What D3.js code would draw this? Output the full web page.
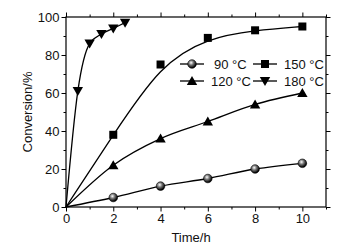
<!DOCTYPE html>
<html>
<head>
<meta charset="utf-8">
<script src="https://cdn.jsdelivr.net/npm/d3@7"></script>
<style>
	body { margin: 0; background: #fff; }
	text { font-family: "Liberation Sans", Arial, sans-serif; fill: #111; }
</style>
</head>
<body>
<svg id="chart" width="342" height="251"></svg>
<script>
// data
const time90 = [0, 2, 4, 6, 8, 10];
const conv90 = [0, 5, 11, 15, 20, 23];
const time120 = [0, 2, 4, 6, 8, 10];
const conv120 = [0, 22, 36, 45, 54, 60];
const time150 = [0, 2, 4, 6, 8, 10];
const conv150 = [0, 38, 75, 89, 93, 95];
const time180 = [0, 0.5, 1, 1.5, 2, 2.5];
const conv180 = [0, 61, 86, 91, 94, 97];
const xTicks = [0, 2, 4, 6, 8, 10];
const yTicks = [0, 20, 40, 60, 80, 100];
const labels = ["90 °C", "120 °C", "150 °C", "180 °C"];

const series = [
	{ name: labels[0], x: time90, y: conv90, sym: "sphere", curve: d3.curveMonotoneX },
	{ name: labels[1], x: time120, y: conv120, sym: "up", curve: d3.curveMonotoneX },
	{ name: labels[2], x: time150, y: conv150, sym: "square", curve: d3.curveBasis },
	{ name: labels[3], x: time180, y: conv180, sym: "down", curve: d3.curveMonotoneX }
];

const svg = d3.select("#chart");
const m = { left: 66, right: 326, top: 17, bottom: 207 };

const x = d3.scaleLinear().domain([0, 11]).range([m.left, m.right]);
const y = d3.scaleLinear().domain([0, 100]).range([m.bottom, m.top]);

// sphere gradient for the 90 °C markers
const grad = svg.append("defs").append("radialGradient")
	.attr("id", "ball").attr("cx", "40%").attr("cy", "35%").attr("r", "60%");
grad.append("stop").attr("offset", "0%").attr("stop-color", "#fff");
grad.append("stop").attr("offset", "45%").attr("stop-color", "#777");
grad.append("stop").attr("offset", "100%").attr("stop-color", "#000");

// axes: major + minor ticks outward, mirrored on top and right
function axisSet(axisFn, scale, ticks, minor, tr, showLabels) {
	const g1 = svg.append("g").attr("transform", tr)
		.call(axisFn(scale).tickValues(minor).tickSize(2.5).tickFormat(""));
	const g2 = svg.append("g").attr("transform", tr)
		.call(axisFn(scale).tickValues(ticks).tickSize(4.5).tickPadding(2)
			.tickFormat(showLabels ? d3.format("d") : ""));
	[g1, g2].forEach(function(g) {
		g.select(".domain").remove();
		g.selectAll("line").attr("stroke", "#000").attr("stroke-width", 1);
		g.selectAll("text").style("font-size", "13px").attr("fill", "#111");
	});
}
const xMinor = [1, 3, 5, 7, 9, 11];
const yMinor = [10, 30, 50, 70, 90];
axisSet(d3.axisBottom, x, xTicks, xMinor, "translate(0," + m.bottom + ")", true);
axisSet(d3.axisTop, x, xTicks, xMinor, "translate(0," + m.top + ")", false);
axisSet(d3.axisLeft, y, yTicks, yMinor, "translate(" + m.left + ",0)", true);
axisSet(d3.axisRight, y, yTicks, yMinor, "translate(" + m.right + ",0)", false);

svg.append("rect")
	.attr("x", m.left).attr("y", m.top)
	.attr("width", m.right - m.left).attr("height", m.bottom - m.top)
	.attr("fill", "none").attr("stroke", "#000").attr("stroke-width", 1.2);

svg.append("text").attr("x", 191).attr("y", 242).attr("text-anchor", "middle")
	.style("font-size", "13px").text("Time/h");
svg.append("text").attr("transform", "translate(32,112) rotate(-90)")
	.attr("text-anchor", "middle").style("font-size", "13px").text("Conversion/%");

function drawSymbol(g, sym, cx, cy) {
	if (sym === "sphere") {
		g.append("circle").attr("cx", cx).attr("cy", cy).attr("r", 4.3)
			.attr("fill", "url(#ball)").attr("stroke", "#000").attr("stroke-width", 0.6);
	} else if (sym === "square") {
		g.append("rect").attr("x", cx - 4).attr("y", cy - 4).attr("width", 8).attr("height", 8)
			.attr("fill", "#000");
	} else {
		const s = sym === "up" ? -1 : 1;
		g.append("path")
			.attr("d", "M" + (cx - 5.2) + "," + (cy - s * 4) + "L" + (cx + 5.2) + "," + (cy - s * 4) +
				"L" + cx + "," + (cy + s * 5) + "Z")
			.attr("fill", "#000");
	}
}

series.forEach(function(s) {
	const pts = s.x.map(function(d, i) { return [d, s.y[i]]; });
	const line = d3.line()
		.x(function(d) { return x(d[0]); })
		.y(function(d) { return y(d[1]); })
		.curve(s.curve);
	svg.append("path").datum(pts).attr("d", line)
		.attr("fill", "none").attr("stroke", "#000").attr("stroke-width", 1.3);
	const g = svg.append("g");
	pts.slice(1).forEach(function(p) { drawSymbol(g, s.sym, x(p[0]), y(p[1])); });
});

// legend, two columns
const legendPos = [[180, 64], [180, 81], [253, 64], [253, 81]];
series.forEach(function(s, i) {
	const lx = legendPos[i][0], ly = legendPos[i][1];
	const g = svg.append("g");
	g.append("line").attr("x1", lx).attr("x2", lx + 24).attr("y1", ly).attr("y2", ly)
		.attr("stroke", "#000").attr("stroke-width", 1.3);
	drawSymbol(g, s.sym, lx + 12, ly);
	g.append("text").attr("x", i === 0 ? lx + 34 : lx + 31).attr("y", ly + 5)
		.style("font-size", "13px").text(s.name);
});
</script>
</body>
</html>
